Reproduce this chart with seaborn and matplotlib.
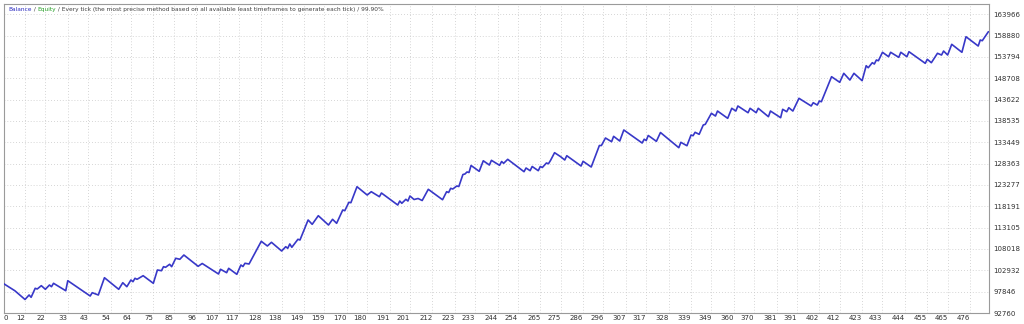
import matplotlib
matplotlib.use("Agg")
import matplotlib.pyplot as plt
import seaborn as sns
import pandas as pd
from matplotlib.offsetbox import TextArea, HPacker, AnchoredOffsetbox

# ---- data ----
trades = [1, 7, 12, 14, 15, 17, 18, 20, 22, 24, 25, 26, 32, 33, 44, 45, 48, 51, 58, 60,
          62, 64, 65, 66, 67, 70, 75, 77, 79, 80, 81, 83, 84, 86, 88, 90, 97, 99, 107, 108,
          111, 112, 116, 118, 119, 120, 122, 128, 131, 133, 138, 140, 141, 142, 143, 146, 147, 151, 153, 156,
          161, 163, 165, 168, 169, 171, 172, 175, 180, 182, 186, 187, 195, 196, 197, 199, 200, 201, 203, 205,
          207, 210, 217, 219, 220, 221, 222, 224, 225, 227, 228, 229, 230, 231, 235, 237, 240, 241, 245, 246,
          247, 249, 257, 258, 260, 261, 264, 265, 266, 268, 269, 270, 272, 275, 277, 278, 285, 286, 290, 294,
          295, 297, 300, 301, 304, 306, 315, 316, 317, 318, 322, 324, 333, 334, 337, 339, 340, 341, 343, 345,
          346, 349, 351, 352, 357, 359, 361, 362, 367, 368, 371, 372, 377, 378, 383, 384, 386, 387, 389, 392,
          398, 399, 401, 402, 403, 408, 412, 414, 417, 419, 423, 425, 426, 428, 429, 430, 431, 433, 436, 437,
          441, 442, 445, 446, 454, 455, 457, 460, 462, 463, 465, 467, 472, 474, 480, 481, 482, 485]
balance = [99910, 98070, 95980, 97050, 96500, 98650, 98480, 99270, 98410, 99430,
           99030, 99840, 98070, 100460, 96810, 97600, 97050, 101170, 98410, 99980,
           99030, 100630, 100220, 101030, 100790, 101650, 99840, 103010, 102840, 103800,
           103650, 104370, 103800, 105800, 105560, 106580, 103890, 104560, 102060, 103180,
           102370, 103410, 101980, 104200, 103840, 104610, 104440, 109850, 108730, 109610,
           107540, 108560, 108180, 109210, 108420, 110330, 110160, 114930, 113900, 115950,
           113730, 115090, 114140, 117310, 117140, 119140, 119050, 122860, 120880, 121670,
           120480, 121360, 118500, 119450, 118910, 119860, 119450, 120650, 119810, 120050,
           119570, 122240, 119760, 121670, 121480, 122480, 122310, 123030, 122910, 125770,
           125890, 126370, 126250, 127920, 126530, 129040, 128030, 129150, 127960, 128870,
           128440, 129390, 126440, 127320, 126680, 127680, 126680, 127680, 127440, 128510,
           128340, 129110, 130970, 130010, 129230, 130250, 127800, 128920, 127560, 132680,
           132680, 134470, 133590, 134870, 133750, 136380, 133280, 134180, 133870, 135070,
           133680, 135780, 132160, 133440, 132630, 135180, 135020, 135830, 135350, 137570,
           137730, 140360, 139710, 140900, 139160, 141550, 140900, 142100, 140500, 141550,
           140500, 141550, 139550, 140900, 139310, 141310, 140740, 141690, 140900, 143930,
           142100, 142880, 142330, 143290, 143120, 149080, 147750, 149890, 148290, 149890,
           148130, 151700, 151220, 152420, 152110, 153060, 152890, 154900, 153850, 154900,
           153700, 154900, 153850, 155040, 152270, 153230, 152420, 154660, 154250, 155200,
           154250, 156800, 154900, 158610, 156400, 157830, 157660, 159810]

x_tick_labels = [0, 12, 22, 33, 43, 54, 64, 75, 85, 96, 107, 117, 128, 138, 149, 159, 170,
                 180, 191, 201, 212, 223, 233, 244, 254, 265, 275, 286, 296, 307, 317, 328,
                 339, 349, 360, 370, 381, 391, 402, 412, 423, 433, 444, 455, 465, 476]
y_tick_values = [92760, 97846, 102932, 108018, 113105, 118191, 123277, 128363,
                 133449, 138535, 143622, 148708, 153794, 158880, 163966]

header_parts = ["Balance", " / ", "Equity",
                " / Every tick (the most precise method based on all available least timeframes to generate each tick) / 99.90%"]
header_colors = ["#2a2ac0", "#404040", "#2aa02a", "#404040"]

# ---- style ----
sns.set_style("white")
plt.rcParams['font.family'] = ['DejaVu Sans']

fig = plt.figure(figsize=(10.24, 3.24), dpi=100)
ax = fig.add_axes([0.00342, 0.03395, 0.9624, 0.9552])

df = pd.DataFrame({"trade": trades, "balance": balance})
sns.lineplot(data=df, x="trade", y="balance", ax=ax, color="#3838c8",
             linewidth=1.2, estimator=None, sort=False, zorder=3)

ax.set_xlim(1.44, 485.3)
ax.set_ylim(92760, 166526)

xpos = [1.44] + x_tick_labels[1:]
ax.set_xticks(xpos)
ax.set_xticklabels([str(v) for v in x_tick_labels], ha="right")
ax.get_xticklabels()[0].set_ha("left")
ax.set_yticks(y_tick_values)
ax.set_yticklabels([str(v) for v in y_tick_values])
ax.yaxis.tick_right()
ax.tick_params(axis="both", length=0, labelsize=5, colors="#303030")
ax.tick_params(axis="x", pad=1.5)
ax.tick_params(axis="y", pad=3)
ax.set_xlabel("")
ax.set_ylabel("")

ax.grid(True, linestyle=(0, (1, 2.5)), color="#c8c8c8", linewidth=0.6)
ax.set_axisbelow(True)
for s in ax.spines.values():
    s.set_color("#9a9a9a")
    s.set_linewidth(0.8)

areas = [TextArea(t, textprops=dict(color=c, fontsize=4.25, family="DejaVu Sans"))
         for t, c in zip(header_parts, header_colors)]
box = HPacker(children=areas, align="baseline", pad=0, sep=0)
anch = AnchoredOffsetbox(loc="upper left", child=box, pad=0.15, frameon=False,
                         bbox_to_anchor=(0.0025, 0.996), bbox_transform=ax.transAxes,
                         borderpad=0)
ax.add_artist(anch)

fig.savefig("out.png", dpi=100)
